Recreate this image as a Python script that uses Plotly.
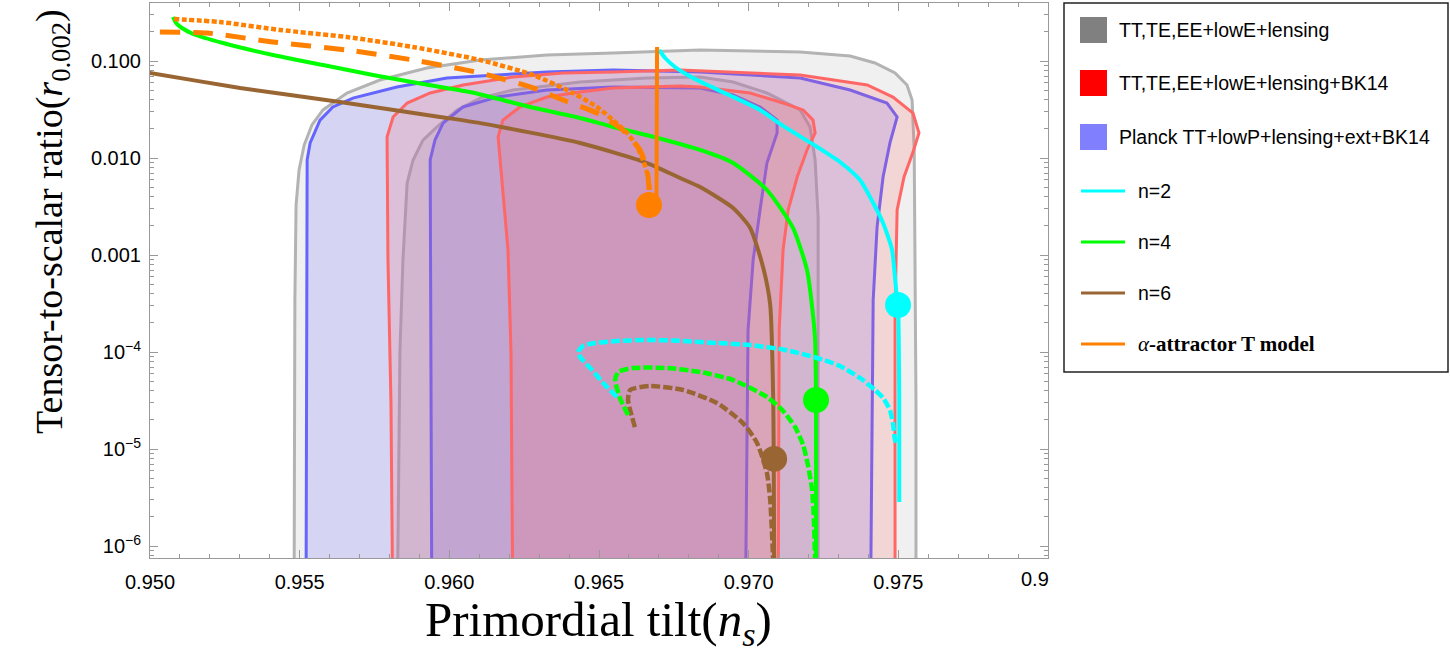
import plotly.graph_objects as go

# ---------------- data (ns, r) ----------------
# TT,TE,EE+lowE+lensing (gray) 95% / 68%
gray95_ns = [0.95481, 0.95484, 0.95488, 0.95498, 0.95515, 0.95541, 0.95578, 0.95658, 0.95768, 0.95925, 0.96103, 0.96326,
             0.96547, 0.96838, 0.97172, 0.97339, 0.97422, 0.97489, 0.97529, 0.97546, 0.97553, 0.97556, 0.97559, 0.97559]
gray95_r = [1e-7, 3.44e-4, 3.28e-3, 7.52e-3, 0.0136, 0.0219, 0.0313, 0.0468, 0.0637, 0.0847, 0.1024, 0.1153,
            0.1209, 0.1299, 0.1238, 0.1126, 0.0954, 0.0752, 0.0566, 0.0396, 0.0121, 1.13e-3, 3e-5, 1e-7]
gray68_ns = [0.95825, 0.95835, 0.95845, 0.95859, 0.95879, 0.95912, 0.95959, 0.96026, 0.96103, 0.96213, 0.96437,
             0.96661, 0.96838, 0.96948, 0.97061, 0.97172, 0.97205, 0.97222, 0.97232, 0.97232, 0.97232]
gray68_r = [1e-7, 1e-4, 8.88e-4, 5.52e-3, 9.54e-3, 0.0153, 0.0209, 0.0313, 0.0415, 0.0502, 0.0608,
            0.0668, 0.0684, 0.0608, 0.0468, 0.0313, 0.0209, 9.54e-3, 2.46e-3, 1e-4, 1e-7]

# TT,TE,EE+lowE+lensing+BK14 (red) 95% / 68%
red95_ns = [0.95812, 0.95805, 0.95795, 0.95792, 0.95792, 0.95812, 0.95859, 0.95936, 0.96046, 0.96213, 0.96380, 0.96547,
            0.96771, 0.97172, 0.97396, 0.97482, 0.97549, 0.97569, 0.97549, 0.97519, 0.97496, 0.97489, 0.97489]
red95_r = [1e-7, 3e-5, 8.88e-4, 9.54e-3, 0.0165, 0.0265, 0.0369, 0.0468, 0.0566, 0.0684, 0.0752, 0.0770,
           0.0808, 0.0717, 0.0566, 0.0425, 0.0291, 0.0181, 0.0115, 6.37e-3, 2.91e-3, 2.71e-4, 1e-7]
red68_ns = [0.96213, 0.96206, 0.96196, 0.96169, 0.96163, 0.96179, 0.96236, 0.96326, 0.96437, 0.96547, 0.96771, 0.96838,
            0.97005, 0.97115, 0.97182, 0.97215, 0.97222, 0.97195, 0.97162, 0.97132, 0.97115, 0.97102, 0.97098]
red68_r = [1e-7, 1e-4, 1.13e-3, 9.54e-3, 0.0165, 0.0246, 0.0336, 0.0425, 0.0479, 0.0527, 0.0553, 0.0540,
           0.0468, 0.0369, 0.0313, 0.0246, 0.0181, 0.0121, 6.37e-3, 2.91e-3, 1.13e-3, 1.69e-4, 1e-7]

# Planck TT+lowP+lensing+ext+BK14 (blue) 95% / 68%
blue95_ns = [0.95521, 0.95525, 0.95525, 0.95535, 0.95568, 0.95611, 0.95678, 0.95825, 0.95992, 0.96159, 0.96326,
             0.96547, 0.96838, 0.97172, 0.97339, 0.97462, 0.97496, 0.97472, 0.97449, 0.97429, 0.97416, 0.97406]
blue95_r = [1e-7, 8.88e-4, 9.54e-3, 0.0143, 0.0246, 0.0336, 0.0415, 0.0540, 0.0668, 0.0717, 0.0770,
            0.0808, 0.0770, 0.0668, 0.0502, 0.0369, 0.0265, 0.0143, 6.37e-3, 1.94e-3, 3.44e-4, 1e-7]
blue68_ns = [0.95942, 0.95936, 0.95936, 0.95952, 0.95979, 0.96046, 0.96159, 0.96326, 0.96547, 0.96838, 0.96948,
             0.97038, 0.97095, 0.97095, 0.97061, 0.97038, 0.97015, 0.96998, 0.96988]
blue68_r = [1e-7, 8.88e-4, 9.54e-3, 0.0153, 0.0229, 0.0336, 0.0425, 0.0502, 0.0540, 0.0527, 0.0446,
            0.0336, 0.0246, 0.0181, 8.88e-3, 2.91e-3, 8.88e-4, 1.69e-4, 1e-7]

# model curves
n2_ns = [0.96701, 0.96721, 0.96754, 0.96814, 0.96927, 0.97038, 0.97115, 0.97229, 0.97305, 0.97372, 0.97416, 0.97449,
         0.97479, 0.97489, 0.97496, 0.97499, 0.97503, 0.97503]
n2_r = [0.1299, 0.1074, 0.0867, 0.0668, 0.0457, 0.0313, 0.0214, 0.0130, 9.10e-3, 5.93e-3, 3.44e-3, 2.14e-3,
        1.13e-3, 5.79e-4, 3.44e-4, 3.05e-4, 3.2e-5, 2.84e-6]
n2d_ns = [0.96560, 0.96520, 0.96477, 0.96437, 0.96430, 0.96447, 0.96487, 0.96560, 0.96671, 0.96781, 0.96894, 0.97005,
          0.97122, 0.97229, 0.97305, 0.97372, 0.97422, 0.97449, 0.97472, 0.97482, 0.97489, 0.97496]
n2d_r = [3.44e-5, 4.57e-5, 6.52e-5, 8.88e-5, 1.0e-4, 1.153e-4, 1.238e-4, 1.299e-4, 1.33e-4, 1.299e-4, 1.238e-4, 1.18e-4,
         1.05e-4, 8.67e-5, 7.17e-5, 5.40e-5, 4.06e-5, 3.36e-5, 2.52e-5, 1.85e-5, 1.238e-5, 1.10e-5]

n4_ns = [0.95077, 0.95087, 0.95107, 0.95144, 0.95244, 0.95411, 0.95578, 0.95745, 0.95912, 0.96069, 0.96270, 0.96437,
         0.96547, 0.96671, 0.96838, 0.96948, 0.97061, 0.97148, 0.97195, 0.97212, 0.97222, 0.97225, 0.97225]
n4_r = [0.284, 0.2465, 0.2189, 0.1899, 0.1533, 0.1153, 0.0909, 0.0717, 0.0579, 0.0479, 0.0336, 0.02585,
        0.0209, 0.01686, 0.0121, 8.88e-3, 4.68e-3, 1.9e-3, 7.0e-4, 2.91e-4, 1.33e-4, 3.2e-5, 7e-7]
n4d_ns = [0.96597, 0.96570, 0.96554, 0.96564, 0.96614, 0.96727, 0.96838, 0.96948, 0.97061, 0.97112, 0.97155, 0.97182,
          0.97198, 0.97212, 0.97218, 0.97222]
n4d_r = [2.24e-5, 3.36e-5, 5.14e-5, 6.22e-5, 6.84e-5, 6.84e-5, 6.22e-5, 5.14e-5, 3.44e-5, 2.52e-5, 1.685e-5, 1.10e-5,
         6.84e-6, 3.78e-6, 1.85e-6, 7e-7]

n6_ns = [0.94970, 0.95000, 0.95301, 0.95635, 0.95969, 0.96103, 0.96437, 0.96661, 0.96771, 0.96838, 0.96948, 0.97005,
         0.97048, 0.97072, 0.97082, 0.97085]
n6_r = [0.0770, 0.0752, 0.0527, 0.0378, 0.0265, 0.0229, 0.0143, 8.88e-3, 6.22e-3, 5.02e-3, 3.05e-3, 1.9e-3,
        7.52e-4, 3.05e-4, 3.2e-5, 7e-7]
n6d_ns = [0.96620, 0.96604, 0.96597, 0.96604, 0.96671, 0.96781, 0.96894, 0.96981, 0.97028, 0.97061, 0.97072, 0.97082]
n6d_r = [1.685e-5, 2.52e-5, 3.2e-5, 4.06e-5, 4.46e-5, 4.06e-5, 2.98e-5, 1.85e-5, 1.153e-5, 5.66e-6, 2.98e-6, 7e-7]

aT_dot_ns = [0.95080, 0.95234, 0.95434, 0.95658, 0.95879, 0.96103, 0.96280, 0.96413, 0.96493, 0.96547, 0.96594,
             0.96627, 0.96647, 0.96664, 0.96671]
aT_dot_r = [0.271, 0.2524, 0.209, 0.1768, 0.1394, 0.1024, 0.0717, 0.0468, 0.0336, 0.0246, 0.0181,
            0.0130, 9.54e-3, 6.37e-3, 4.46e-3]
aT_dash_ns = [0.95033, 0.95190, 0.95411, 0.95658, 0.95879, 0.96103, 0.96270, 0.96380, 0.96493, 0.96580, 0.96637,
              0.96661, 0.96667]
aT_dash_r = [0.199, 0.1944, 0.157, 0.1299, 0.1024, 0.0752, 0.0540, 0.0396, 0.0291, 0.0194, 0.0121,
             7.52e-3, 4.68e-3]
aT_ns = [0.96694, 0.96692]
aT_r = [0.1394, 0.0040]

# end points (large dots): alpha-T, n=2, n=4, n=6
dot_ns = [0.96667, 0.97499, 0.97225, 0.97085]
dot_r = [3.28e-3, 3.05e-4, 3.2e-5, 7.9e-6]

x_ticks = [0.950, 0.955, 0.960, 0.965, 0.970, 0.975, 0.980]
x_ticktext = ["0.950", "0.955", "0.960", "0.965", "0.970", "0.975", " "]
y_ticks = [1e-6, 1e-5, 1e-4, 1e-3, 1e-2, 1e-1]
y_ticktext = ["10<sup>\u22126</sup>", "10<sup>\u22125</sup>", "10<sup>\u22124</sup>", "0.001", "0.010", "0.100"]

legend_labels = ["TT,TE,EE+lowE+lensing", "TT,TE,EE+lowE+lensing+BK14", "Planck TT+lowP+lensing+ext+BK14",
                 "n=2", "n=4", "n=6", "<i>\u03b1</i><b>-attractor T model</b>"]

# ---------------- styles ----------------
C_GRAY, C_RED, C_BLUE = "#808080", "#ff0000", "#8080ff"
C_CYAN, C_GREEN, C_BROWN, C_ORANGE = "#00ffff", "#00ff00", "#996633", "#ff8000"

fig = go.Figure()

def contour(ns, r, fill, line, name):
    fig.add_trace(go.Scatter(x=ns, y=r, mode="lines", fill="toself", fillcolor=fill,
                             line=dict(color=line, width=3), name=name, showlegend=False,
                             hoverinfo="skip"))

contour(gray95_ns, gray95_r, "rgba(128,128,128,0.12)", "#b3b3b3", "TT,TE,EE+lowE+lensing 95%")
contour(gray68_ns, gray68_r, "rgba(128,128,128,0.12)", "#b3b3b3", "TT,TE,EE+lowE+lensing 68%")
contour(blue95_ns, blue95_r, "rgba(96,96,255,0.19)", "#6464ff", "Planck TT+lowP+lensing+ext+BK14 95%")
contour(blue68_ns, blue68_r, "rgba(96,96,255,0.19)", "#6464ff", "Planck TT+lowP+lensing+ext+BK14 68%")
contour(red95_ns, red95_r, "rgba(255,96,96,0.18)", "#ff6666", "TT,TE,EE+lowE+lensing+BK14 95%")
contour(red68_ns, red68_r, "rgba(255,96,96,0.18)", "#ff6666", "TT,TE,EE+lowE+lensing+BK14 68%")

def curve(ns, r, color, width, dash, name):
    fig.add_trace(go.Scatter(x=ns, y=r, mode="lines", name=name, showlegend=False,
                             line=dict(color=color, width=width, dash=dash, shape="spline", smoothing=0.6)))

curve(n6_ns, n6_r, C_BROWN, 4, "solid", "n=6")
curve(n4_ns, n4_r, C_GREEN, 4, "solid", "n=4")
curve(n2_ns, n2_r, C_CYAN, 4, "solid", "n=2")
curve(n6d_ns, n6d_r, C_BROWN, 4.5, "9px,3px", "n=6 (dashed)")
curve(n4d_ns, n4d_r, C_GREEN, 4.5, "9px,3px", "n=4 (dashed)")
curve(n2d_ns, n2d_r, C_CYAN, 4.5, "9px,3px", "n=2 (dashed)")
curve(aT_dash_ns, aT_dash_r, C_ORANGE, 5, "20px,13px", "alpha-attractor T (dashed)")
curve(aT_dot_ns, aT_dot_r, C_ORANGE, 4.5, "5px,2.5px", "alpha-attractor T (dotted)")
curve(aT_ns, aT_r, C_ORANGE, 4, "solid", "alpha-attractor T")

fig.add_trace(go.Scatter(x=dot_ns, y=dot_r, mode="markers", showlegend=False, name="end points",
                         marker=dict(size=26, color=[C_ORANGE, C_CYAN, C_GREEN, C_BROWN], line=dict(width=0))))

# ---------------- layout ----------------
W, H = 1450, 653
L, R, T, B = 150, 1048, 3, 558   # plot-area edges in pixels
def px(x):
    return (x - L) / (R - L)
def py(y):
    return (B - y) / (B - T)

xminor = [round(0.950 + 0.001 * i, 3) for i in range(31)]
yminor = [k * 10.0 ** d for d in range(-7, 0) for k in range(2, 10)]
FRAME = "#999999"
TICKFONT = dict(family="Liberation Sans", size=20, color="black")

fig.update_layout(
    width=W, height=H, autosize=False,
    margin=dict(l=L, r=W - R, t=T, b=H - B, pad=0),
    paper_bgcolor="white", plot_bgcolor="white",
    showlegend=False,
    xaxis=dict(range=[0.950, 0.980], tickmode="array", tickvals=x_ticks, ticktext=x_ticktext,
               ticks="inside", ticklen=8, tickwidth=1, tickcolor=FRAME, showline=True, linecolor=FRAME,
               linewidth=1, mirror="ticks", showgrid=False, zeroline=False, tickfont=TICKFONT,
               ticklabelstandoff=6,
               minor=dict(ticks="inside", ticklen=4, tickcolor=FRAME, tickmode="array", tickvals=xminor,
                          showgrid=False)),
    yaxis=dict(type="log", range=[-6.1237, -0.402], tickmode="array", tickvals=y_ticks, ticktext=y_ticktext,
               ticks="inside", ticklen=8, tickwidth=1, tickcolor=FRAME, showline=True, linecolor=FRAME,
               linewidth=1, mirror="ticks", showgrid=False, zeroline=False, tickfont=TICKFONT,
               ticklabelstandoff=4,
               minor=dict(ticks="inside", ticklen=4, tickcolor=FRAME, tickmode="array", tickvals=yminor,
                          showgrid=False)),
)

ann = []
# clipped last x tick label
ann.append(dict(xref="x", yref="paper", x=0.980, y=0, xanchor="right", yanchor="top", yshift=-8, xshift=3,
                text="0.9", showarrow=False, font=TICKFONT))
# axis titles
ann.append(dict(xref="paper", yref="paper", x=px(598), y=py(622), xanchor="center", yanchor="middle",
                text="Primordial tilt(<i>n<sub>s</sub></i>)", showarrow=False,
                font=dict(family="Liberation Serif", size=49, color="black")))
ann.append(dict(xref="paper", yref="paper", x=px(52), y=py(222), xanchor="center", yanchor="middle",
                textangle=-90, text="Tensor-to-scalar ratio(<i>r</i><sub>0.002</sub>)", showarrow=False,
                font=dict(family="Liberation Serif", size=38, color="black")))

shapes = []
shapes.append(dict(type="rect", xref="paper", yref="paper", x0=px(1064), x1=px(1448), y0=py(372), y1=py(3),
                   line=dict(color="#222222", width=1.5), fillcolor="white", layer="above"))
rows = [30, 83, 137, 191, 242, 293, 344]
sq_colors = [C_GRAY, C_RED, C_BLUE]
ln_colors = [C_CYAN, C_GREEN, C_BROWN, C_ORANGE]
for i, (yy, lab) in enumerate(zip(rows, legend_labels)):
    if i < 3:
        shapes.append(dict(type="rect", xref="paper", yref="paper", x0=px(1080), x1=px(1107),
                           y0=py(yy + 13), y1=py(yy - 13), line=dict(width=0), fillcolor=sq_colors[i],
                           layer="above"))
        tx = 1117
    else:
        shapes.append(dict(type="line", xref="paper", yref="paper", x0=px(1081), x1=px(1125),
                           y0=py(yy), y1=py(yy), line=dict(color=ln_colors[i - 3], width=3), layer="above"))
        tx = 1136
    if i == 6:
        f = dict(family="Liberation Serif", size=21, color="black")
    else:
        f = dict(family="Liberation Sans", size=19.5, color="black")
    ann.append(dict(xref="paper", yref="paper", x=px(tx), y=py(yy), xanchor="left", yanchor="middle",
                    text=lab, showarrow=False, font=f))

fig.update_layout(annotations=ann, shapes=shapes)
fig.write_html("out.html")
